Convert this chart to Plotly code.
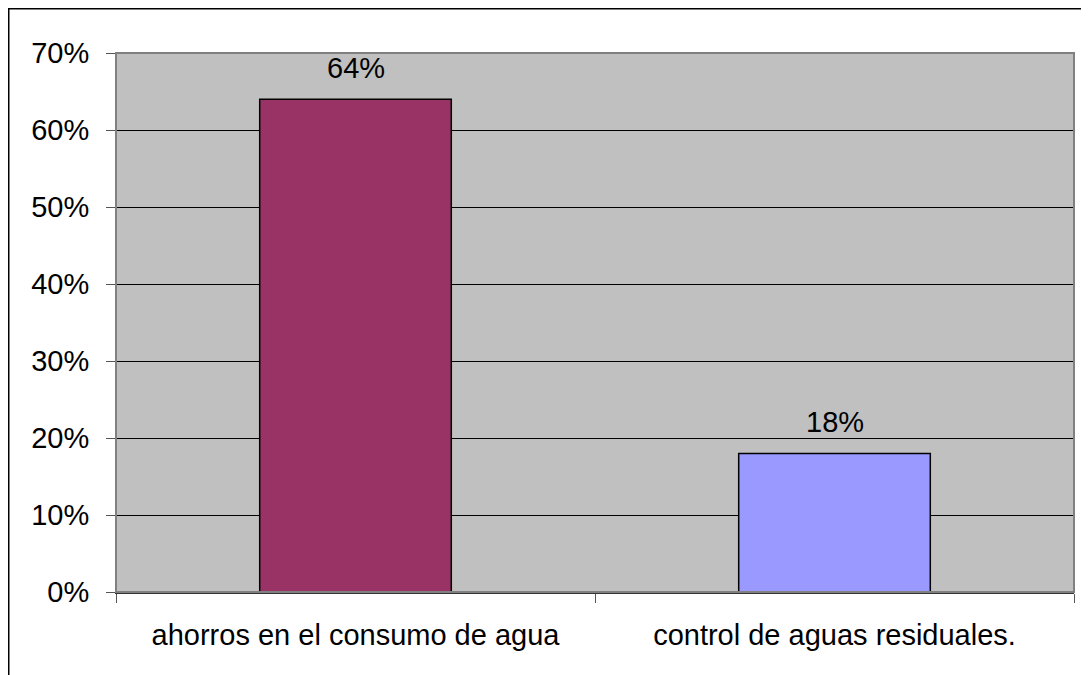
import plotly.graph_objects as go

categories = ["ahorros en el consumo de agua", "control de aguas residuales."]
values = [0.64, 0.18]
bar_colors = ["#993366", "#9999FF"]
labels = ["64%", "18%"]

W, H = 1081, 667
L, R, T, B = 108, 15, 45, 83
pw = W - L - R
ph = H - T - B
FONT = "Liberation Sans, Arial"
FS = 29

fig = go.Figure()
fig.add_trace(go.Bar(
    x=categories, y=values,
    marker=dict(color=bar_colors, line=dict(color="black", width=1.5)),
    width=0.4,
    hoverinfo="skip",
))

for c, v, t in zip(categories, values, labels):
    fig.add_annotation(x=c, y=v, text=t, showarrow=False, yanchor="bottom",
                       yshift=13, font=dict(family=FONT, size=FS, color="black"))

fig.update_layout(
    width=W, height=H,
    margin=dict(l=L, r=R, t=T, b=B, pad=0),
    paper_bgcolor="white",
    plot_bgcolor="#C0C0C0",
    font=dict(family=FONT, size=FS, color="black"),
    showlegend=False,
    xaxis=dict(
        showline=True, linecolor="#333333", linewidth=1.5,
        ticks="outside", tickson="boundaries", ticklen=9, tickcolor="#555555", tickwidth=1,
        mirror=False, showgrid=False,
        tickfont=dict(size=FS),
        ticklabelstandoff=16,
    ),
    yaxis=dict(
        range=[0, 0.7], dtick=0.1, tickformat=".0%",
        showgrid=True, gridcolor="black", gridwidth=1,
        showline=True, linecolor="#333333", linewidth=1,
        ticks="outside", ticklen=9, tickcolor="#555555",
        zeroline=False,
        tickfont=dict(size=FS),
        ticklabelstandoff=11,
    ),
    shapes=[
        dict(type="rect", xref="paper", yref="paper",
             x0=0, x1=1, y0=0, y1=1,
             line=dict(color="#808080", width=2), fillcolor="rgba(0,0,0,0)", layer="above"),
        dict(type="rect", xref="paper", yref="paper",
             x0=(0.75 - L) / pw, x1=(W + 20 - L) / pw,
             y0=-(B + 20) / ph, y1=1 + (T - 0.75) / ph,
             line=dict(color="black", width=1.5), fillcolor="rgba(0,0,0,0)"),
    ],
)

fig.write_html("out.html")
